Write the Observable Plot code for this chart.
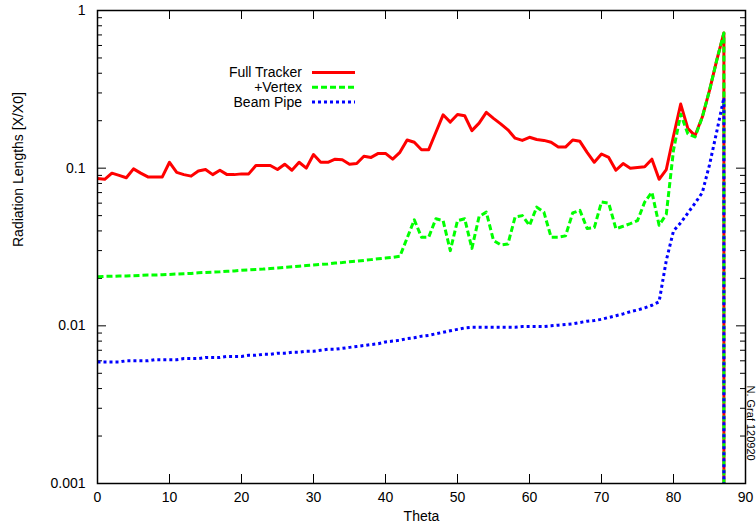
<!DOCTYPE html>
<html><head><meta charset="utf-8">
<script src="https://cdn.jsdelivr.net/npm/d3@7"></script>
<script src="https://cdn.jsdelivr.net/npm/@observablehq/plot@0.6"></script>
<style>
body{margin:0;background:#fff}
#chart{position:relative;width:756px;height:531px;overflow:hidden}
</style>
</head><body><div id="chart"></div>
<script>
// ---------- data ----------
const series = ["Full Tracker", "+Vertex", "Beam Pipe"];
const theta = [0,1,2,3,4,5,6,7,8,9,10,11,12,13,14,15,16,17,18,19,20,21,22,23,24,25,26,27,28,29,
  30,31,32,33,34,35,36,37,38,39,40,41,42,43,44,45,46,47,48,49,50,51,52,53,54,55,56,57,58,59,
  60,61,62,63,64,65,66,67,68,69,70,71,72,73,74,75,76,77,78,79,80,81,82,83,84,85,86,87];
const fullTracker = [0.086,0.085,0.093,0.090,0.087,0.099,0.093,0.088,0.088,0.088,
  0.109,0.094,0.091,0.089,0.096,0.098,0.091,0.097,0.091,0.091,
  0.092,0.092,0.104,0.104,0.104,0.098,0.106,0.097,0.109,0.100,
  0.122,0.109,0.109,0.114,0.113,0.106,0.107,0.119,0.117,0.124,
  0.124,0.114,0.126,0.151,0.146,0.131,0.131,0.169,0.218,0.196,
  0.219,0.215,0.173,0.193,0.226,0.207,0.191,0.175,0.155,0.150,
  0.157,0.152,0.150,0.146,0.136,0.136,0.151,0.148,0.126,0.109,
  0.123,0.117,0.097,0.107,0.100,0.101,0.102,0.114,0.085,0.098,
  0.160,0.255,0.178,0.161,0.211,0.311,0.482,0.720];
const plusVertex = [0.0205,0.0206,0.0206,0.0207,0.0207,0.0208,0.0209,0.0210,0.0210,0.0211,
  0.0212,0.0213,0.0214,0.0215,0.0217,0.0218,0.0219,0.0220,0.0222,0.0223,
  0.0225,0.0226,0.0228,0.0229,0.0231,0.0233,0.0235,0.0237,0.0239,0.0241,
  0.0243,0.0245,0.0247,0.0250,0.0252,0.0255,0.0257,0.0260,0.0263,0.0266,
  0.0269,0.0272,0.0276,0.0360,0.0470,0.0365,0.0365,0.0478,0.0465,0.0300,
  0.0465,0.0478,0.0310,0.0494,0.0526,0.0348,0.0326,0.0330,0.0490,0.0500,
  0.0433,0.0566,0.0526,0.0365,0.0365,0.0372,0.0520,0.0540,0.0415,0.0420,
  0.0610,0.0600,0.0413,0.0428,0.0445,0.0465,0.0610,0.0704,0.0435,0.0510,
  0.130,0.220,0.165,0.158,0.211,0.311,0.482,0.720];
const beamPipe = [0.0059,0.0059,0.0059,0.0059,0.0060,0.0060,0.0060,0.0060,0.0061,0.0061,
  0.0061,0.0061,0.0062,0.0062,0.0062,0.0063,0.0063,0.0063,0.0064,0.0064,
  0.0064,0.0065,0.0065,0.0066,0.0066,0.0067,0.0067,0.0068,0.0068,0.0069,
  0.0069,0.0070,0.0071,0.0071,0.0072,0.0073,0.0074,0.0075,0.0076,0.0077,
  0.0079,0.0080,0.0081,0.0083,0.0084,0.0086,0.0087,0.0089,0.0091,0.0093,
  0.0095,0.0097,0.0098,0.0098,0.0098,0.0098,0.0098,0.0098,0.0098,0.0099,
  0.0099,0.0099,0.0099,0.0100,0.0101,0.0102,0.0103,0.0105,0.0107,0.0108,
  0.0110,0.0113,0.0116,0.0119,0.0123,0.0126,0.0130,0.0135,0.0142,0.0260,
  0.0400,0.0450,0.0520,0.0600,0.0700,0.1050,0.1700,0.2800];
const values = [fullTracker, plusVertex, beamPipe];
const dropTheta = 87;      // all curves fall to zero at the last angle
const dropFloor = 1e-6;    // stand-in for zero on the log axis (clipped)
const xTicks = [0,10,20,30,40,50,60,70,80,90];
const yTicks = [0.001, 0.01, 0.1, 1];
const yTickLabels = ["0.001", "0.01", "0.1", "1"];
const xLabel = "Theta";
const yLabel = "Radiation Lengths [X/X0]";
const credit = "N. Graf 120920";

// ---------- styles ----------
const colors = ["#ff0000", "#00ff00", "#0000ff"];
const dashes = [null, "6,3", "3,3"];
const W = 756, H = 531, mL = 97, mR = 11, mT = 10, mB = 48;
const innerW = W - mL - mR, innerH = H - mT - mB;
const font = "'Liberation Sans', Arial, Helvetica, sans-serif";

// ---------- table ----------
const rows = [];
series.forEach((name, k) => {
  values[k].forEach((v, i) => rows.push({series: name, theta: theta[i], value: v}));
  rows.push({series: name, theta: dropTheta, value: dropFloor});
});
const yMinor = [];
yTicks.slice(0, -1).forEach(d => { for (let m = 2; m <= 9; m++) yMinor.push(d * m); });

const lineMarks = series.map((name, k) =>
  Plot.line(rows.filter(r => r.series === name), {
    x: "theta", y: "value", stroke: colors[k], strokeWidth: 3,
    strokeDasharray: dashes[k], clip: true, strokeLinejoin: "round", strokeLinecap: "butt"
  }));

const plot = Plot.plot({
  width: W, height: H,
  marginLeft: mL, marginRight: mR, marginTop: mT, marginBottom: mB,
  style: {fontFamily: font, fontSize: "14px", background: "white", color: "black", overflow: "visible"},
  x: {domain: [0, 90]},
  y: {type: "log", domain: [0.001, 1]},
  marks: [
    Plot.axisX({ticks: xTicks, tickSize: 0, tickPadding: 9, label: null, fontSize: 14}),
    Plot.axisY({ticks: yTicks, tickFormat: d => yTickLabels[yTicks.indexOf(d)], tickSize: 0, tickPadding: 12, label: null, fontSize: 14}),
    Plot.tickY(yTicks, {y: d => d, insetRight: innerW - 9, stroke: "black", strokeWidth: 1}),
    Plot.tickY(yTicks, {y: d => d, insetLeft: innerW - 9, stroke: "black", strokeWidth: 1}),
    Plot.tickY(yMinor, {y: d => d, insetRight: innerW - 5, stroke: "black", strokeWidth: 1}),
    Plot.tickY(yMinor, {y: d => d, insetLeft: innerW - 5, stroke: "black", strokeWidth: 1}),
    Plot.tickX(xTicks, {x: d => d, insetTop: innerH - 9, stroke: "black", strokeWidth: 1}),
    Plot.tickX(xTicks, {x: d => d, insetBottom: innerH - 9, stroke: "black", strokeWidth: 1}),
    ...lineMarks,
    Plot.frame({stroke: "black", strokeWidth: 1.5}),
    Plot.text([yLabel], {frameAnchor: "left", dx: -79, rotate: -90, fontSize: 14, fill: "black"}),
    Plot.text([xLabel], {frameAnchor: "bottom", dy: 37, fontSize: 14, fill: "black"}),
    Plot.text([credit], {frameAnchor: "bottom-right", dx: 1, dy: -98, rotate: 90, textAnchor: "start", fontSize: 11, fill: "black"})
  ]
});

// ---------- legend (inside the plot, top-left) ----------
const svg = d3.select(plot);
const lg = svg.append("g").attr("font-family", font).attr("font-size", 14);
series.forEach((name, k) => {
  const y = 72.5 + k * 14.7;
  lg.append("text").attr("x", 302).attr("y", y).attr("dy", "0.35em")
    .attr("text-anchor", "end").attr("fill", "black").text(name);
  lg.append("line").attr("x1", 312).attr("x2", 355).attr("y1", y).attr("y2", y)
    .attr("stroke", colors[k]).attr("stroke-width", 3)
    .attr("stroke-dasharray", dashes[k]);
});

document.getElementById("chart").appendChild(plot);
</script>
</body></html>
